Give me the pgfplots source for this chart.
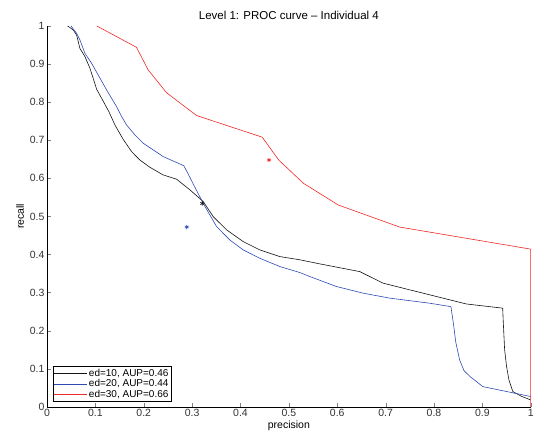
\documentclass[border=0pt]{standalone}
\usepackage{pgfplots}
\pgfplotsset{compat=1.18}
\usepackage{fontspec}
\setmainfont{Liberation Sans}
\definecolor{mblue}{RGB}{45,75,180}
\definecolor{mred}{RGB}{240,40,40}
\definecolor{mblack}{RGB}{20,20,20}
\begin{document}
\begin{tikzpicture}
\begin{axis}[
  scale only axis, width=484pt, height=381pt,
  xmin=0, xmax=1, ymin=0, ymax=1,
  axis x line*=bottom, axis y line*=left,
  axis line style={black, line width=0.5pt},
  tick align=inside, major tick length=4pt,
  xtick={0,0.1,0.2,0.3,0.4,0.5,0.6,0.7,0.8,0.9,1},
  ytick={0,0.1,0.2,0.3,0.4,0.5,0.6,0.7,0.8,0.9,1},
  xticklabels={0,0.1,0.2,0.3,0.4,0.5,0.6,0.7,0.8,0.9,1},
  yticklabels={0,0.1,0.2,0.3,0.4,0.5,0.6,0.7,0.8,0.9,1},
  tick label style={font=\fontsize{10.5}{12}\selectfont, text=black!80},
  xticklabel style={yshift=1pt},
  yticklabel style={xshift=1pt},
  xlabel={precision}, ylabel={recall},
  label style={font=\fontsize{10.5}{12}\selectfont},
  xlabel style={yshift=3pt},
  ylabel style={yshift=-1pt},
  title={Level 1: PROC curve -- Individual 4},
  title style={font=\fontsize{11.5}{13}\selectfont, yshift=-3pt},
  legend style={at={(0.012,0.014)}, anchor=south west, draw=black, line width=0.8pt,
    font=\fontsize{10}{11}\selectfont, inner sep=0.5pt, row sep=-2.5pt, cells={anchor=west}},
  legend image code/.code={\draw[#1, line width=0.6pt] (0cm,0cm) -- (1.15cm,0cm);},
  every axis plot/.append style={line width=0.6pt, line join=round},
]
\addplot[mblack] coordinates {
 (0.0427,1.0) (0.0544,0.9895) (0.0613,0.976) (0.068,0.9413) (0.0785,0.9195) (0.0888,0.889)
 (0.0957,0.862) (0.1026,0.834) (0.113,0.810) (0.128,0.775) (0.1405,0.740) (0.1577,0.702)
 (0.175,0.670) (0.192,0.648) (0.2128,0.629) (0.240,0.609) (0.268,0.5976) (0.2955,0.5696)
 (0.323,0.539) (0.3436,0.4995) (0.3713,0.4646) (0.4056,0.4339) (0.440,0.412) (0.4814,0.3945)
 (0.5227,0.386) (0.564,0.3753) (0.6467,0.355) (0.6948,0.3246) (0.75,0.307) (0.7913,0.294)
 (0.867,0.27) (0.942,0.259) (0.943,0.228) (0.946,0.15) (0.95,0.106) (0.955,0.07)
 (0.963,0.04) (0.98,0.028) (1.0,0.018)};
\addlegendentry{ed=10, AUP=0.46}
\addplot[mblue] coordinates {
 (0.0496,1.0) (0.0613,0.9808) (0.0682,0.963) (0.0785,0.928) (0.0923,0.902) (0.106,0.871)
 (0.1233,0.832) (0.144,0.788) (0.154,0.763) (0.1646,0.740) (0.1818,0.714) (0.199,0.692) (0.2197,0.6745)
 (0.2403,0.657) (0.283,0.633) (0.323,0.534) (0.3506,0.4732) (0.378,0.438) (0.4056,0.412)
 (0.440,0.390) (0.4814,0.3683) (0.5227,0.3525) (0.5434,0.342) (0.5985,0.3158) (0.6535,0.2984)
 (0.7087,0.2853) (0.7913,0.272) (0.835,0.263) (0.84,0.22) (0.845,0.17) (0.853,0.123)
 (0.862,0.095) (0.874,0.08) (0.901,0.053) (1.0,0.027)};
\addlegendentry{ed=20, AUP=0.44}
\addplot[mred] coordinates {
 (0.103,1.0) (0.185,0.944) (0.209,0.885) (0.247,0.825) (0.309,0.765) (0.445,0.708)
 (0.479,0.648) (0.53,0.587) (0.602,0.53) (0.626,0.519) (0.729,0.472) (1.0,0.414) (1.0,0.0)};
\addlegendentry{ed=30, AUP=0.66}
\addplot[mblack, only marks, mark=asterisk, mark size=2.2pt, forget plot] coordinates {(0.321,0.534)};
\addplot[mblue, only marks, mark=asterisk, mark size=2.2pt, forget plot] coordinates {(0.289,0.472)};
\addplot[mred, only marks, mark=asterisk, mark size=2.2pt, forget plot] coordinates {(0.459,0.648)};
\end{axis}
\path[use as bounding box] (-47pt,-31pt) rectangle (490pt,407pt);
\end{tikzpicture}
\end{document}
